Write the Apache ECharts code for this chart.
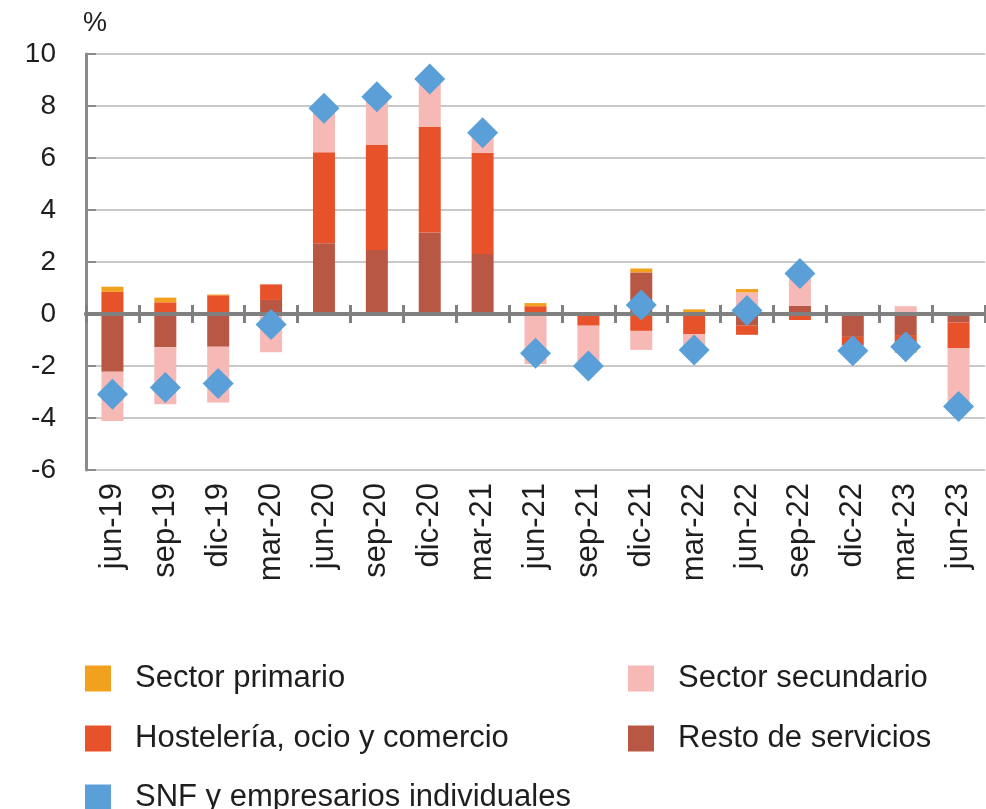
<!DOCTYPE html>
<html>
<head>
<meta charset="utf-8">
<script src="https://cdn.jsdelivr.net/npm/echarts@6/dist/echarts.min.js"></script>
<style>
  html, body { margin: 0; padding: 0; background: #fff; }
  #chart { width: 986px; height: 809px; }
</style>
</head>
<body>
<div id="chart"></div>
<script>
let categories = ["jun-19", "sep-19", "dic-19", "mar-20", "jun-20", "sep-20", "dic-20", "mar-21", "jun-21",
  "sep-21", "dic-21", "mar-22", "jun-22", "sep-22", "dic-22", "mar-23", "jun-23"];

// stack order (bottom -> top): resto, hosteleria, secundario, primario
let resto = [-2.22, -1.28, -1.26, 0.54, 2.72, 2.46, 3.13, 2.31, 0, 0, 1.6, 0, -0.45, 0.31, -0.88, -0.81, -0.33];
let hosteleria = [0.85, 0.45, 0.72, 0.6, 3.5, 4.04, 4.06, 3.88, 0.3, -0.45, -0.65, -0.77, -0.35, -0.23, -0.32, -0.6, -0.99];
let secundario = [-1.9, -2.19, -2.14, -1.47, 1.68, 1.86, 1.85, 0.7, -1.92, -1.55, -0.73, -0.62, 0.83, 1.4, -0.15, 0.3, -2.05];
let primario = [0.2, 0.18, 0.03, 0, 0, 0, 0, 0, 0.12, 0, 0.15, 0.18, 0.13, 0, 0, -0.08, -0.1];
let snf = [-3.09, -2.83, -2.67, -0.4, 7.91, 8.36, 9.04, 6.97, -1.51, -2.0, 0.35, -1.38, 0.13, 1.56, -1.41, -1.26, -3.56];

let font = "'Liberation Sans', Arial, sans-serif";
let textColor = "#1e1e1e";

let myChart = echarts.init(document.getElementById("chart"));

function bar(name, data, color) {
  return {
    name: name,
    type: "bar",
    stack: "total",
    barWidth: 22,
    data: data,
    itemStyle: { color: color },
    z: 2
  };
}

// the zero line has ticks on both sides: one axis per grid, one pointing down, one up
function zeroAxis(gridIndex, position) {
  return {
    type: "category",
    gridIndex: gridIndex,
    data: categories,
    position: position,
    z: 3,
    axisLine: { onZero: true, lineStyle: { color: "#808080", width: 4 } },
    axisTick: { show: true, length: 9, lineStyle: { color: "#808080", width: 3 } },
    axisLabel: { show: false },
    splitLine: { show: false }
  };
}

function legendItem(name, left, top) {
  return {
    left: left,
    top: top,
    padding: 0,
    itemWidth: 26,
    itemHeight: 26,
    icon: "rect",
    data: [name],
    textStyle: { fontFamily: font, fontSize: 31, color: textColor, padding: [0, 0, 0, 19] }
  };
}

let gridBox = { left: 86, right: 1, top: 54, bottom: 339, containLabel: false };

let option = {
  backgroundColor: "#fff",
  animation: false,
  title: {
    text: "%",
    left: 78,
    top: 5,
    textStyle: { fontFamily: font, fontSize: 27, fontWeight: "normal", color: textColor }
  },
  grid: [gridBox, Object.assign({}, gridBox)],
  legend: [
    legendItem("Sector primario", 85, 663),
    legendItem("Sector secundario", 628, 663),
    legendItem("Hostelería, ocio y comercio", 85, 723),
    legendItem("Resto de servicios", 628, 723),
    legendItem("SNF y empresarios individuales", 85, 782)
  ],
  xAxis: [
    {
      type: "category",
      gridIndex: 0,
      data: categories,
      position: "bottom",
      axisLine: { show: false, onZero: false },
      axisTick: { show: false },
      axisLabel: {
        rotate: 90,
        margin: 13,
        fontFamily: font,
        fontSize: 31,
        color: textColor
      }
    },
    zeroAxis(0, "top"),
    zeroAxis(1, "bottom")
  ],
  yAxis: [
    {
      type: "value",
      gridIndex: 0,
      min: -6,
      max: 10,
      interval: 2,
      axisLine: { show: true, lineStyle: { color: "#8a8a8a", width: 3 } },
      axisTick: { show: true, inside: true, length: 10, lineStyle: { color: "#8a8a8a", width: 2 } },
      axisLabel: { margin: 30, fontFamily: font, fontSize: 28, color: textColor },
      splitLine: { lineStyle: { color: "#c8c8c8", width: 2 } }
    },
    {
      type: "value",
      gridIndex: 1,
      min: -6,
      max: 10,
      interval: 2,
      axisLine: { show: false },
      axisTick: { show: false },
      axisLabel: { show: false },
      splitLine: { show: false }
    }
  ],
  series: [
    bar("Resto de servicios", resto, "#b85844"),
    bar("Hostelería, ocio y comercio", hosteleria, "#e8522a"),
    bar("Sector secundario", secundario, "#f6b9b6"),
    bar("Sector primario", primario, "#f2a11f"),
    {
      name: "SNF y empresarios individuales",
      type: "scatter",
      symbol: "diamond",
      symbolSize: 31,
      data: snf,
      itemStyle: { color: "#5a9fd8", opacity: 1 },
      z: 5
    }
  ]
};

myChart.setOption(option);
</script>
</body>
</html>
